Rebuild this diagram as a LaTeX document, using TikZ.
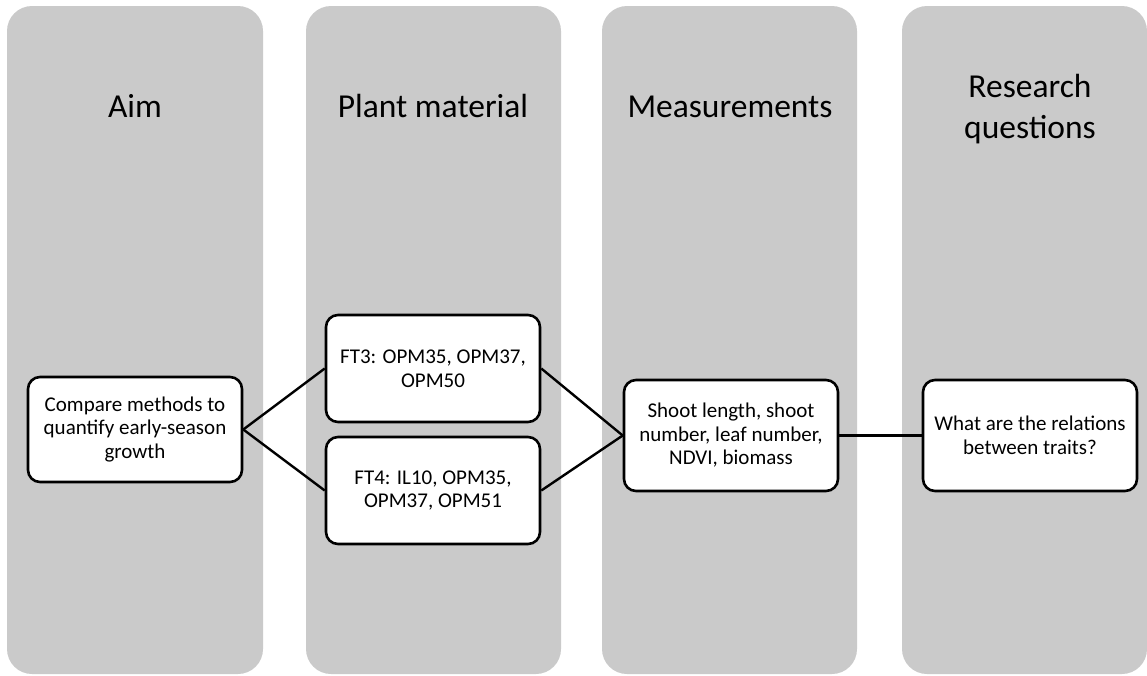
\documentclass[tikz,border=0pt]{standalone}
\usepackage{fontspec}
\setmainfont{Carlito}
\definecolor{colbg}{RGB}{202,202,202}
\tikzset{
  column/.style={fill=colbg, draw=none, rounded corners=25pt},
  heading/.style={font=\fontsize{33.5}{41}\selectfont, align=center, inner sep=0pt, text=black},
  itembox/.style={draw=black, fill=white, line width=2.6pt, rounded corners=12pt,
    minimum width=214pt, align=center, inner sep=0pt,
    font=\fontsize{21}{23.5}\selectfont},
  conn/.style={draw=black, line width=2.4pt}
}
\begin{document}
\begin{tikzpicture}[x=1pt,y=-1pt]
\useasboundingbox (0,0) rectangle (1147,675);
% columns
\path[column] (7,6) rectangle (263,674);
\path[column] (306,6) rectangle (561,674);
\path[column] (602,6) rectangle (857,674);
\path[column] (902,6) rectangle (1147,674);
% headings
\node[heading, anchor=base] (h1) at (135,117) {Aim};
\node[heading, anchor=base] (h2) at (433,117) {Plant material};
\node[heading, anchor=base] (h3) at (730,117) {Measurements};
\node[heading, anchor=base] (h4) at (1030,138) {Research\\questions};
% boxes
\node[itembox, minimum height=105pt] (aim) at (135,429.5) {Compare methods to\\quantify early-season\\growth};
\node[itembox, minimum height=107pt] (ft3) at (433,368.5) {FT3: OPM35, OPM37,\\OPM50};
\node[itembox, minimum height=107pt] (ft4) at (433,490.5) {FT4: IL10, OPM35,\\OPM37, OPM51};
\node[itembox, minimum height=111pt] (meas) at (731,435.5) {Shoot length, shoot\\number, leaf number,\\NDVI, biomass};
\node[itembox, minimum height=111pt] (rq) at (1030,435.5) {What are the relations\\between traits?};
% connectors
\draw[conn] (aim.east) -- (ft3.west);
\draw[conn] (aim.east) -- (ft4.west);
\draw[conn] (ft3.east) -- (meas.west);
\draw[conn] (ft4.east) -- (meas.west);
\draw[conn] (meas.east) -- (rq.west);
\end{tikzpicture}
\end{document}
